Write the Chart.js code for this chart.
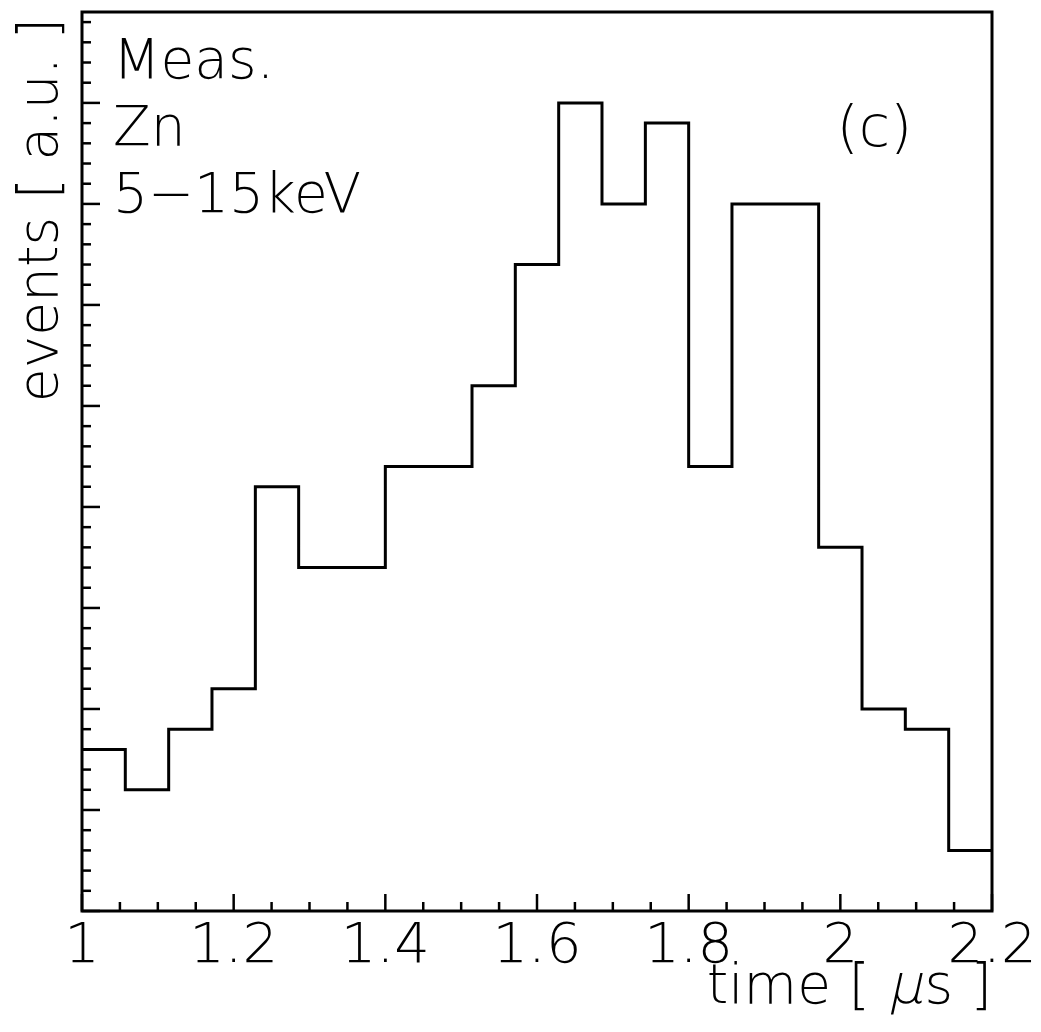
<!DOCTYPE html>
<html>
<head>
<meta charset="utf-8">
<script src="https://cdn.jsdelivr.net/npm/chart.js@4/dist/chart.umd.min.js"></script>
<style>
  html, body { margin: 0; padding: 0; background: #fff; }
  #wrap { width: 1041px; height: 1032px; }
</style>
</head>
<body>
<div id="wrap"><canvas id="c" width="1041" height="1032"></canvas></div>
<script>
// ---- data ----
const binEdges = [1.0000, 1.0571, 1.1143, 1.1714, 1.2286, 1.2857, 1.3429, 1.4000, 1.4571, 1.5143, 1.5714,
                  1.6286, 1.6857, 1.7429, 1.8000, 1.8571, 1.9143, 1.9714, 2.0286, 2.0857, 2.1429, 2.2000];
const counts = [8, 6, 9, 11, 21, 17, 17, 22, 22, 26, 32, 40, 35, 39, 22, 35, 35, 18, 10, 9, 3];
const xTickLabels = ["1", "1.2", "1.4", "1.6", "1.8", "2", "2.2"];
const xRange = [1, 2.2];
const yRange = [0, 44.5];
const xMajorStep = 0.2, xMinorStep = 0.05;
const yMajorStep = 5, yMinorStep = 1;
const infoLines = ["Meas.", "Zn", "5\u221215keV"];
const panelLabel = "(c)";
const yTitle = "events [ a.u. ]";

const FONT = '"DejaVu Sans", "Liberation Sans", sans-serif';

// step histogram points: each bin's left edge with its count, plus closing point
const histPoints = counts.map((v, i) => ({ x: binEdges[i], y: v }));
histPoints.push({ x: binEdges[binEdges.length - 1], y: counts[counts.length - 1] });

const decor = {
  id: 'decor',
  afterDraw(chart) {
    const ctx = chart.ctx;
    const xs = chart.scales.x, ys = chart.scales.y;
    const a = chart.chartArea;
    ctx.save();
    ctx.strokeStyle = '#000';
    ctx.fillStyle = '#000';
    // frame
    ctx.lineWidth = 3;
    ctx.strokeRect(a.left, a.top, a.right - a.left, a.bottom - a.top);
    // x ticks (inward)
    ctx.lineWidth = 2.5;
    const nx = Math.round((xRange[1] - xRange[0]) / xMinorStep);
    for (let i = 0; i <= nx; i++) {
      const v = xRange[0] + i * xMinorStep;
      const px = xs.getPixelForValue(v);
      const major = (i % Math.round(xMajorStep / xMinorStep)) === 0;
      const len = major ? 17 : 9;
      ctx.beginPath(); ctx.moveTo(px, a.bottom); ctx.lineTo(px, a.bottom - len); ctx.stroke();
    }
    // y ticks (inward)
    const ny = Math.floor((yRange[1] - yRange[0]) / yMinorStep);
    for (let i = 0; i <= ny; i++) {
      const v = yRange[0] + i * yMinorStep;
      const py = ys.getPixelForValue(v);
      const major = (i % Math.round(yMajorStep / yMinorStep)) === 0;
      const len = major ? 18 : 9;
      ctx.beginPath(); ctx.moveTo(a.left, py); ctx.lineTo(a.left + len, py); ctx.stroke();
    }
    // info text
    ctx.font = '200 55px ' + FONT;
    ctx.textAlign = 'left';
    ctx.textBaseline = 'alphabetic';
    const lx = a.left + 31;
    infoLines.forEach((t, i) => ctx.fillText(t, lx, a.top + 66 + i * 67));
    ctx.font = '200 57px ' + FONT;
    ctx.fillText(panelLabel, xs.getPixelForValue(1.995), a.top + 134);
    // y title
    ctx.font = '200 55px ' + FONT;
    ctx.save();
    ctx.translate(57, a.top + 6);
    ctx.rotate(-Math.PI / 2);
    ctx.textAlign = 'right';
    ctx.fillText(yTitle, 0, 0);
    ctx.restore();
    // x title: time [ μs ]  (μ slanted)
    const base = 1003;
    const p1 = "time [ ", p2 = "\u03bc", p3 = "s ]";
    ctx.font = '200 55px ' + FONT;
    const w1 = ctx.measureText(p1).width, w2 = ctx.measureText(p2).width, w3 = ctx.measureText(p3).width;
    const x0 = a.right - (w1 + w2 + w3) - 2;
    ctx.fillText(p1, x0, base);
    ctx.save();
    ctx.translate(x0 + w1, base);
    ctx.transform(1, 0, -0.22, 1, 0, 0);
    ctx.fillText(p2, 0, 0);
    ctx.restore();
    ctx.fillText(p3, x0 + w1 + w2 + 2, base);
    ctx.restore();
  }
};

new Chart(document.getElementById('c'), {
  type: 'line',
  data: {
    datasets: [{
      data: histPoints,
      stepped: 'before',
      borderColor: '#000',
      borderWidth: 3,
      pointRadius: 0,
      fill: false,
      tension: 0
    }]
  },
  options: {
    responsive: false,
    animation: false,
    layout: { padding: { top: 12, right: 49, left: 0, bottom: 0 } },
    plugins: { legend: { display: false }, tooltip: { enabled: false } },
    scales: {
      x: {
        type: 'linear',
        min: xRange[0], max: xRange[1],
        grid: { display: false, drawTicks: false },
        border: { display: false },
        ticks: {
          stepSize: xMajorStep,
          padding: 3,
          color: '#000',
          font: { family: FONT, size: 56, weight: '200' },
          maxRotation: 0,
          autoSkip: false,
          callback: (v, i) => xTickLabels[i]
        },
        afterFit: s => { s.height = 1032 - 911; }
      },
      y: {
        type: 'linear',
        min: yRange[0], max: yRange[1],
        grid: { display: false, drawTicks: false },
        border: { display: false },
        ticks: { display: false },
        afterFit: s => { s.width = 82; }
      }
    }
  },
  plugins: [decor]
});
</script>
</body>
</html>
